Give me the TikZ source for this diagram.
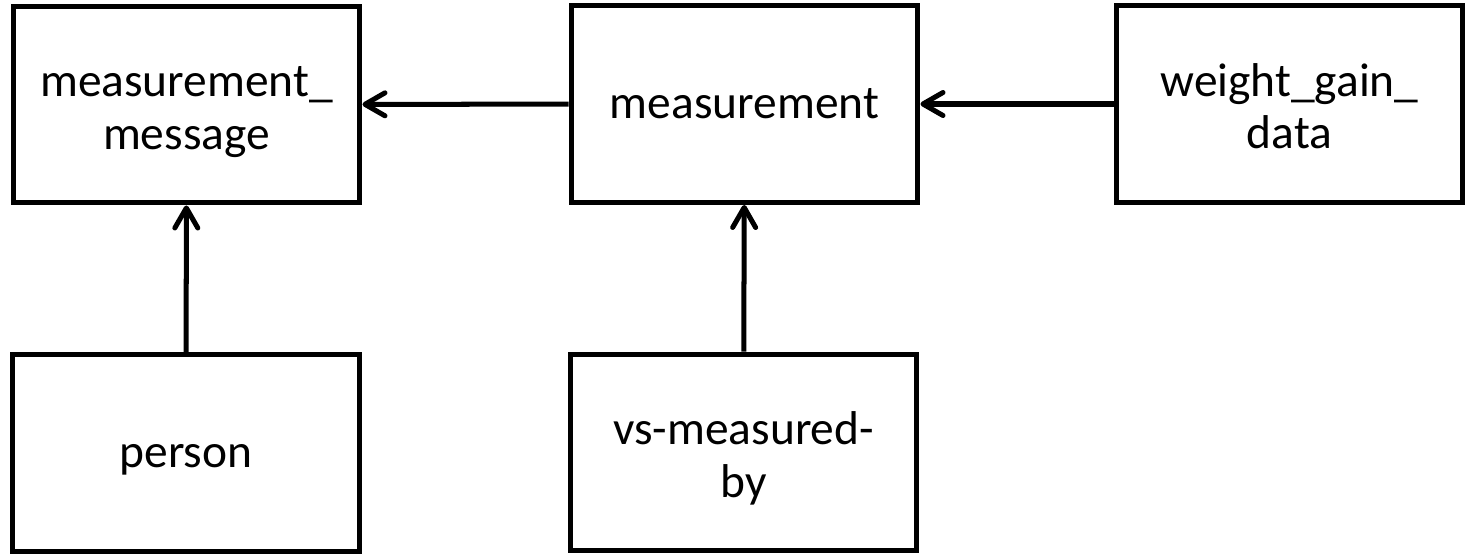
\documentclass[tikz,border=0pt]{standalone}
\usepackage{fontspec}
\setmainfont{Carlito}
\usetikzlibrary{arrows.meta}

\tikzset{
  box/.style={draw,line width=2.85pt,minimum width=6.94cm,minimum height=3.94cm,inner sep=0pt,align=center,text height=17pt,text depth=0pt,font=\fontsize{27}{30}\selectfont},
  twoline/.style={text height=51pt},
  link/.style={line width=2.85pt,-{Straight Barb[round,length=0.4cm,width=0.46cm]}}
}

\begin{document}
\begin{tikzpicture}[x=0.02cm,y=-0.02cm]
  \useasboundingbox (0,0) rectangle (1466,554);
  % top row
  \node[box,twoline] (MM) at (186.5,104.5) {measurement\_\\message};
  \node[box] (M) at (744.5,104) {measurement};
  \node[box,twoline] (W) at (1289.5,104) {weight\_gain\_\\data};
  % bottom row
  \node[box] (P) at (186,453) {person};
  \node[box,twoline] (V) at (743.5,452.5) {vs-measured-\\by};
  % links
  \draw[link] (M) -- (MM);
  \draw[link] (W) -- (M);
  \draw[link] (P) -- (MM);
  \draw[link] (V) -- (M);
\end{tikzpicture}
\end{document}
